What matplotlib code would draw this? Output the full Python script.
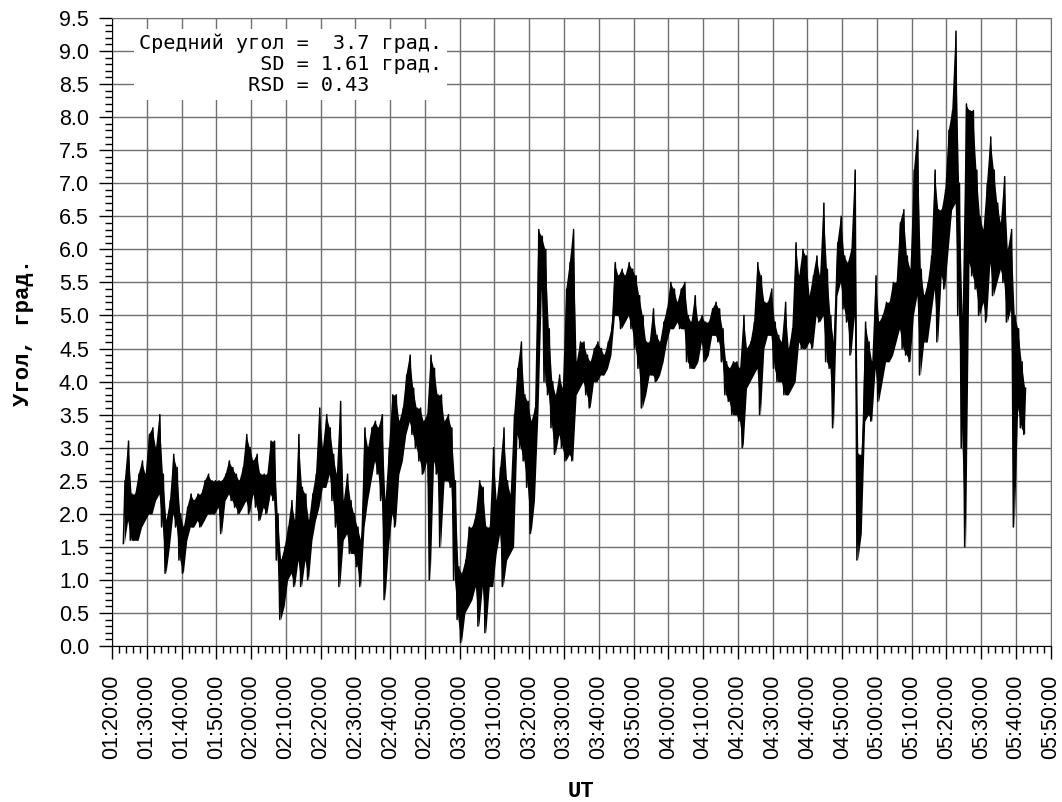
import numpy as np
import matplotlib.pyplot as plt
from matplotlib.ticker import MultipleLocator, FuncFormatter

# tilt angle, per-minute minimum and maximum, starting at 01:23 UT
start_minute = 83

angle_low = [
    1.55, 1.9, 1.6, 1.6, 1.6, 1.8, 1.9,
    2.0, 2.0, 2.2, 2.3, 1.8, 1.1, 1.5, 2.0, 1.8, 1.3,
    1.1, 1.6, 1.8, 1.8, 1.9, 1.8, 1.9, 2.0, 2.0, 2.0,
    2.1, 1.7, 2.2, 2.3, 2.2, 2.1, 2.0, 2.1, 2.2, 2.0,
    2.3, 2.1, 1.9, 2.1, 2.0, 2.3, 2.2, 1.3, 0.4, 0.6,
    1.0, 1.1, 0.9, 1.3, 0.9, 1.3, 1.0, 1.6, 1.9, 2.1,
    2.4, 2.4, 2.6, 2.2, 1.8, 0.9, 1.6, 1.7, 1.4, 1.4,
    1.2, 0.9, 1.8, 2.2, 2.5, 2.8, 2.6, 2.2, 0.7, 1.5,
    2.0, 1.8, 2.6, 2.8, 3.2, 3.4, 3.2, 3.0, 2.8, 2.6,
    2.8, 1.0, 2.8, 2.6, 1.5, 2.5, 2.5, 2.4, 1.0, 0.4,
    0.05, 0.5, 0.6, 0.7, 0.9, 0.3, 0.9, 0.2, 0.9, 0.9,
    1.4, 1.7, 0.9, 1.3, 1.4, 1.5, 3.2, 3.0, 2.8, 2.4,
    1.7, 2.2, 3.5, 5.4, 4.0, 3.8, 3.3, 2.9, 3.2, 3.0,
    2.8, 2.9, 2.8, 3.8, 3.9, 4.0, 3.8, 3.6, 4.0, 4.0,
    4.1, 4.1, 4.2, 4.4, 5.0, 5.0, 4.8, 4.9, 5.0, 4.8,
    4.5, 4.2, 3.6, 3.8, 4.1, 4.1, 4.0, 4.1, 4.3, 4.6,
    4.8, 4.8, 4.9, 4.8, 4.8, 4.3, 4.2, 4.2, 4.3, 4.6,
    4.3, 4.4, 4.7, 4.7, 4.6, 4.3, 3.8, 3.7, 3.5, 3.5,
    3.4, 3.0, 3.9, 4.0, 4.1, 4.2, 3.5, 4.5, 4.7, 4.7,
    4.2, 4.0, 4.0, 3.8, 3.8, 3.9, 4.0, 4.6, 4.5, 4.5,
    4.6, 4.5, 5.0, 4.9, 5.0, 4.3, 4.2, 3.3, 5.3, 5.5,
    5.1, 4.9, 4.4, 5.0, 1.3, 1.7, 3.4, 3.5, 3.4, 4.2,
    3.7, 4.0, 4.3, 4.3, 4.4, 4.6, 4.8, 4.5, 4.4, 4.3,
    5.0, 5.3, 4.1, 4.6, 4.6, 5.0, 5.4, 4.6, 5.6, 5.4,
    6.0, 6.6, 6.7, 5.0, 3.0, 1.5, 5.8, 5.6, 5.4, 5.0,
    5.2, 4.9, 5.8, 5.3, 5.5, 5.7, 5.5, 4.9, 5.1, 1.8,
    3.6, 3.3, 3.2,
]

angle_high = [
    2.5, 3.1, 2.3, 2.3, 2.6, 2.8, 2.6,
    3.2, 3.3, 3.0, 3.5, 2.6, 1.9, 2.2, 2.9, 2.7, 2.0,
    1.8, 2.1, 2.3, 2.2, 2.3, 2.3, 2.5, 2.6, 2.5, 2.5,
    2.5, 2.5, 2.6, 2.8, 2.7, 2.6, 2.5, 2.7, 3.2, 3.0,
    2.8, 2.9, 2.6, 2.6, 2.6, 3.1, 3.1, 2.0, 1.3, 1.5,
    1.8, 2.2, 1.9, 3.2, 2.4, 2.3, 1.9, 2.3, 2.6, 3.6,
    3.0, 3.5, 3.3, 2.9, 2.6, 3.7, 2.2, 2.6, 2.2, 2.0,
    1.8, 1.6, 3.3, 3.0, 3.3, 3.4, 3.3, 3.5, 2.2, 3.0,
    3.8, 3.8, 3.4, 3.6, 4.1, 4.4, 3.9, 3.6, 3.6, 3.4,
    3.5, 4.4, 4.2, 3.8, 3.8, 3.4, 3.5, 3.3, 2.5, 1.2,
    1.1, 1.3, 1.8, 1.8, 2.0, 2.5, 2.4, 1.8, 1.8, 3.0,
    2.2, 2.7, 3.3, 2.5, 2.3, 3.5, 4.2, 4.6, 3.8, 3.7,
    3.4, 3.6, 6.3, 6.2, 6.0, 4.8, 4.0, 3.8, 4.1, 3.9,
    5.4, 5.8, 6.3, 4.3, 4.6, 4.6, 4.4, 4.3, 4.5, 4.6,
    4.5, 4.4, 4.6, 4.8, 5.8, 5.6, 5.7, 5.6, 5.8, 5.7,
    5.6, 5.3, 5.0, 4.6, 4.6, 5.1, 4.7, 4.6, 4.9, 5.1,
    5.5, 5.4, 5.2, 5.4, 5.5, 5.0, 4.9, 5.3, 4.9, 5.0,
    4.9, 4.9, 5.1, 5.2, 5.1, 4.8, 4.3, 4.2, 4.3, 4.3,
    4.2, 5.0, 4.5, 4.6, 4.9, 5.8, 5.6, 5.2, 5.2, 5.4,
    4.9, 4.7, 4.6, 5.2, 4.5, 4.8, 6.1, 5.6, 6.0, 5.9,
    5.3, 5.6, 5.9, 5.6, 6.7, 5.7, 5.0, 4.6, 6.1, 6.5,
    5.9, 5.8, 6.0, 7.2, 2.9, 2.9, 4.9, 4.6, 4.3, 5.6,
    4.9, 5.0, 5.2, 5.2, 5.5, 5.5, 6.4, 6.6, 5.9, 5.7,
    7.2, 7.8, 5.7, 5.3, 5.5, 5.9, 7.2, 6.6, 6.6, 6.9,
    7.8, 8.1, 9.3, 7.0, 5.0, 8.2, 8.1, 8.1, 7.2, 6.5,
    6.3, 7.0, 7.7, 7.2, 6.7, 6.4, 7.1, 6.0, 6.3, 5.0,
    4.8, 4.3, 3.9,
]

stats_text = ("Средний угол =  3.7 град.\n"
              "          SD = 1.61 град.\n"
              "         RSD = 0.43")


def minutes_to_label(m, pos=None):
    m = int(round(m))
    return "%02d:%02d:00" % (m // 60, m % 60)


# two samples per minute: low, then high
t = []
y = []
for i, (lo, hi) in enumerate(zip(angle_low, angle_high)):
    t += [start_minute + i + 0.25, start_minute + i + 0.75]
    y += [lo, hi]
t_mid = np.arange(len(angle_low)) + start_minute + 0.5

fig = plt.figure(figsize=(10.62, 8.02), dpi=100)
ax = fig.add_axes([0.1055, 0.1945, 0.8839, 0.7831])

# dense band between the per-minute extremes, then the trace itself
ax.fill_between(t_mid, angle_low, angle_high, color="black", linewidth=0,
                zorder=3)
ax.plot(t, y, color="black", linewidth=1.1, zorder=3)

ax.set_xlim(80, 350)
ax.set_ylim(0, 9.5)
ax.xaxis.set_major_locator(MultipleLocator(10))
ax.xaxis.set_minor_locator(MultipleLocator(2))
ax.xaxis.set_major_formatter(FuncFormatter(minutes_to_label))
ax.yaxis.set_major_locator(MultipleLocator(0.5))
ax.yaxis.set_minor_locator(MultipleLocator(0.1))
ax.yaxis.set_major_formatter(FuncFormatter(lambda v, p: "%.1f" % v))

ax.grid(True, which="major", color="#707070", linewidth=1.0)
ax.set_axisbelow(True)
for side in ("top", "right"):
    ax.spines[side].set_color("#707070")

ax.tick_params(which="major", direction="out", length=9.5, width=1.0,
               labelsize=15.5, pad=7)
ax.tick_params(which="minor", direction="out", length=5, width=1.0)
ax.tick_params(axis="x", which="major", pad=11)
for lbl in ax.get_xticklabels():
    lbl.set_rotation(90)
for lbl in ax.get_xticklabels() + ax.get_yticklabels():
    lbl.set_family("Liberation Sans")

ax.set_xlabel("UT", family="Liberation Mono", fontweight="bold",
              fontsize=16, labelpad=16)
ax.set_ylabel("Угол, град.", family="Liberation Mono", fontweight="bold",
              fontsize=16, labelpad=18)

ax.text(0.0288, 0.975, stats_text, transform=ax.transAxes,
        family="DejaVu Sans Mono", fontsize=14.5, va="top", ha="left",
        linespacing=1.12, zorder=4,
        bbox=dict(boxstyle="square,pad=0.25", facecolor="white",
                  edgecolor="none"))

fig.savefig("out.png", dpi=100)
